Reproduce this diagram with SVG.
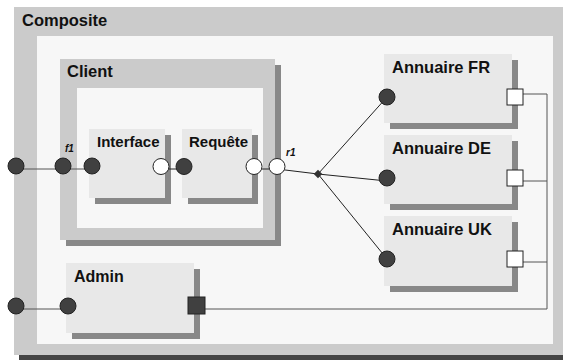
<svg xmlns="http://www.w3.org/2000/svg" width="563" height="360" viewBox="0 0 563 360">
  <style>
    .frame { fill: #cbcbcb; }
    .well { fill: #f7f7f7; }
    .box { fill: #e8e8e8; }
    .shadow { fill: #888888; }
    .deep { fill: #444444; }
    .title { font-family: "Liberation Sans", Arial, sans-serif; font-weight: bold; fill: #111111; }
    .tag { font-family: "Liberation Sans", Arial, sans-serif; font-weight: bold; font-style: italic; font-size: 10px; fill: #111111; }
    .req { fill: #404040; stroke: #222222; stroke-width: 1; }
    .prov { fill: #ffffff; stroke: #222222; stroke-width: 1; }
    .wire { fill: none; stroke: #222222; stroke-width: 1; }
    .bus { fill: none; stroke: #555555; stroke-width: 1; }
  </style>

  <!-- Composite container -->
  <g id="composite">
    <rect class="deep" x="19" y="12" width="560" height="348"/>
    <rect class="frame" x="14" y="7" width="560" height="348"/>
    <rect class="well" x="37" y="36" width="516" height="308"/>
    <text class="title" x="22" y="26" font-size="16.5">Composite</text>
  </g>

  <!-- Client sub-component -->
  <g id="client">
    <rect class="shadow" x="66" y="65" width="215" height="181"/>
    <rect class="frame" x="60" y="59" width="215" height="181"/>
    <rect class="well" x="77" y="88" width="186" height="140"/>
    <text class="title" x="67" y="77" font-size="16.5">Client</text>
  </g>

  <g id="interface">
    <rect class="shadow" x="95" y="135" width="76" height="69"/>
    <rect class="box" x="89" y="129" width="76" height="69"/>
    <text class="title" x="97" y="147" font-size="15">Interface</text>
  </g>

  <g id="requete">
    <rect class="shadow" x="188" y="135" width="70" height="69"/>
    <rect class="box" x="182" y="129" width="70" height="69"/>
    <text class="title" x="189" y="147" font-size="15">Requête</text>
  </g>

  <g id="admin">
    <rect class="shadow" x="72" y="269" width="128" height="70"/>
    <rect class="box" x="66" y="263" width="128" height="70"/>
    <text class="title" x="74" y="282" font-size="16">Admin</text>
  </g>

  <g id="annuaire-fr">
    <rect class="shadow" x="390" y="60" width="128" height="69"/>
    <rect class="box" x="384" y="54" width="128" height="69"/>
    <text class="title" x="392" y="73" font-size="16.5">Annuaire FR</text>
  </g>

  <g id="annuaire-de">
    <rect class="shadow" x="390" y="141" width="128" height="69"/>
    <rect class="box" x="384" y="135" width="128" height="69"/>
    <text class="title" x="392" y="154" font-size="16.5">Annuaire DE</text>
  </g>

  <g id="annuaire-uk">
    <rect class="shadow" x="390" y="222" width="128" height="70"/>
    <rect class="box" x="384" y="216" width="128" height="70"/>
    <text class="title" x="392" y="235" font-size="16.5">Annuaire UK</text>
  </g>

  <!-- Bindings -->
  <g id="connectors">
    <polyline class="bus" points="16,169 92,169"/>
    <polyline class="wire" points="161,169 184,169"/>
    <polyline class="wire" points="254,169 277,169"/>
    <polyline class="wire" points="277,169 318,174"/>
    <polyline class="wire" points="318,174 387,97"/>
    <polyline class="wire" points="318,174 387,181"/>
    <polyline class="wire" points="318,174 387,259"/>
    <rect x="315" y="171" width="6" height="6" fill="#333333" transform="rotate(45 318 174)"/>
    <polyline class="bus" points="16,309 68,309"/>
    <polyline class="bus" points="523,94 547,94 547,309 205,309"/>
    <polyline class="bus" points="523,181 547,181"/>
    <polyline class="bus" points="523,262 547,262"/>
  </g>

  <!-- Ports -->
  <g id="ports">
    <circle class="req" cx="16" cy="166" r="8"/>
    <circle class="req" cx="63" cy="166" r="8"/>
    <circle class="req" cx="92" cy="166" r="8"/>
    <circle class="prov" cx="161" cy="166.5" r="8"/>
    <circle class="req" cx="184" cy="166.5" r="8"/>
    <circle class="prov" cx="254" cy="166.5" r="8"/>
    <circle class="prov" cx="277" cy="166.5" r="8"/>
    <circle class="req" cx="387" cy="97" r="8"/>
    <circle class="req" cx="387" cy="178" r="8"/>
    <circle class="req" cx="387" cy="259" r="8"/>
    <rect class="prov" x="507" y="89" width="16" height="16"/>
    <rect class="prov" x="507" y="170" width="16" height="16"/>
    <rect class="prov" x="507" y="251" width="16" height="16"/>
    <circle class="req" cx="16" cy="306" r="8"/>
    <circle class="req" cx="68" cy="306" r="8"/>
    <rect class="req" x="188" y="297" width="17" height="17"/>
    <text class="tag" x="65" y="152">f1</text>
    <text class="tag" x="286" y="156">r1</text>
  </g>
</svg>
